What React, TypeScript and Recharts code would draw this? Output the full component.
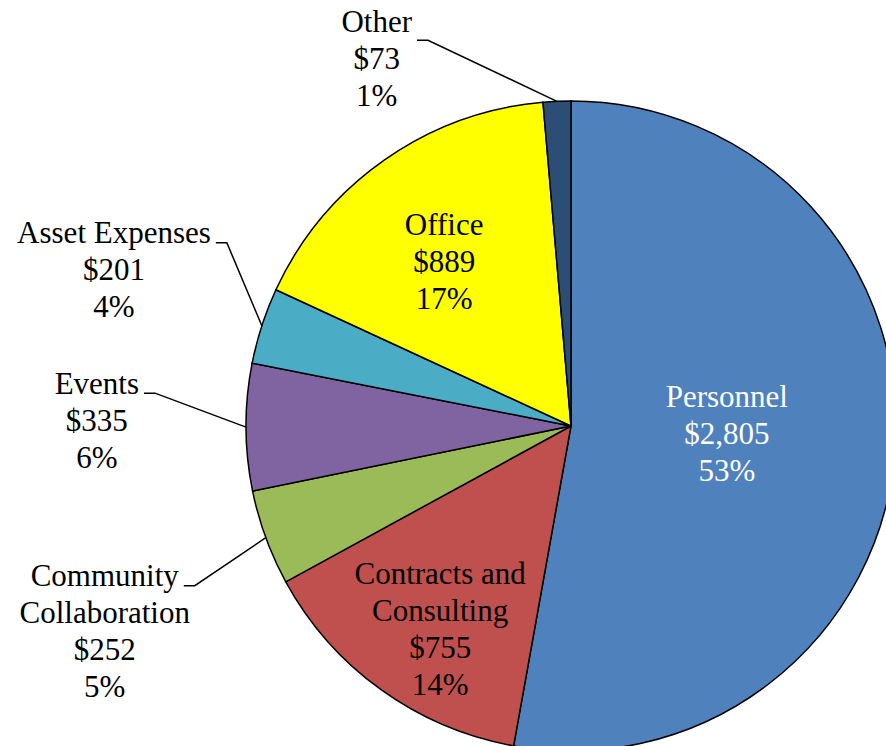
import React from 'react';
import { PieChart, Pie, Cell } from 'recharts';

const categories = [
  'Personnel',
  'Contracts and Consulting',
  'Community Collaboration',
  'Events',
  'Asset Expenses',
  'Office',
  'Other',
];
const amounts = [2805, 755, 252, 335, 201, 889, 73];
const colors = ['#4F81BD', '#C0504D', '#9BBB59', '#8064A2', '#4BACC6', '#FFFF00', '#2C4D75'];
const textColors = ['#FFFFFF', '#000000', '#000000', '#000000', '#000000', '#000000', '#000000'];

// label placement: inside labels sit at a fraction of the radius, outside labels get a leader line
type LabelLayout =
  | { kind: 'inside'; rFactor: number; angleShift: number }
  | { kind: 'outside'; elbowDx: number; elbowDy: number; textDy: number };

const labelLayout: LabelLayout[] = [
  { kind: 'inside', rFactor: 0.48, angleShift: -2.2 },
  { kind: 'inside', rFactor: 0.744, angleShift: -3 },
  { kind: 'outside', elbowDx: -71, elbowDy: 48, textDy: 0 },
  { kind: 'outside', elbowDx: -91, elbowDy: -34, textDy: 1 },
  { kind: 'outside', elbowDx: -35, elbowDy: -83, textDy: 0 },
  { kind: 'inside', rFactor: 0.64, angleShift: -2.5 },
  { kind: 'outside', elbowDx: -129, elbowDy: -61, textDy: -8 },
];

const data = categories.map((name, i) => ({ name, value: amounts[i] }));

const FONT = "'Liberation Serif', 'Times New Roman', 'DejaVu Serif', serif";
const FONT_SIZE = 31;
const LINE_H = 37;
const RADIAN = Math.PI / 180;
const textStyle: React.CSSProperties = { fontFamily: FONT, fontSize: FONT_SIZE };

let measureCtx: CanvasRenderingContext2D | null = null;
const measure = (s: string) => {
  if (!measureCtx) measureCtx = document.createElement('canvas').getContext('2d');
  if (!measureCtx) return s.length * FONT_SIZE * 0.45;
  measureCtx.font = `${FONT_SIZE}px 'Liberation Serif', serif`;
  return measureCtx.measureText(s).width;
};

const wrapName = (name: string): string[] => {
  if (name.length <= 16) return [name];
  const mid = name.length / 2;
  let best = -1;
  for (let i = 0; i < name.length; i++) {
    if (name[i] === ' ' && (best < 0 || Math.abs(i - mid) < Math.abs(best - mid))) best = i;
  }
  return best < 0 ? [name] : [name.slice(0, best), name.slice(best + 1)];
};

const renderLabel = (props: any) => {
  const { cx, cy, midAngle, outerRadius, percent, index, name, value } = props;
  const layout = labelLayout[index];
  const lines = [...wrapName(name), `$${Number(value).toLocaleString('en-US')}`, `${Math.round(percent * 100)}%`];
  const fill = textColors[index];

  if (layout.kind === 'inside') {
    const a = midAngle - layout.angleShift;
    const r = outerRadius * layout.rFactor;
    const x = cx + r * Math.cos(-a * RADIAN);
    const y = cy + r * Math.sin(-a * RADIAN);
    const top = y - ((lines.length - 1) / 2) * LINE_H;
    return (
      <g key={`lbl-${index}`}>
        {lines.map((t, i) => (
          <text key={i} x={x} y={top + i * LINE_H} textAnchor="middle" dominantBaseline="central"
            fill={fill} style={textStyle}>
            {t}
          </text>
        ))}
      </g>
    );
  }

  const ex = cx + outerRadius * Math.cos(-midAngle * RADIAN);
  const ey = cy + outerRadius * Math.sin(-midAngle * RADIAN);
  const bx = ex + layout.elbowDx;
  const by = ey + layout.elbowDy;
  const lineEnd = bx - 11;
  const firstRight = lineEnd - 5;
  const centerX = firstRight - measure(lines[0]) / 2;
  const base = by + layout.textDy;
  return (
    <g key={`lbl-${index}`}>
      <polyline points={`${ex},${ey} ${bx},${by} ${lineEnd},${by}`} fill="none" stroke="#000" strokeWidth={1.5} />
      {lines.map((t, i) => (
        <text key={i} x={centerX} y={base + i * LINE_H} textAnchor="middle"
          fill={fill} style={textStyle}>
          {t}
        </text>
      ))}
    </g>
  );
};

export default function App() {
  return (
    <div style={{ position: 'absolute', left: 0, top: 0, width: 886, height: 746, background: '#fff' }}>
      <PieChart width={886} height={746} margin={{ top: 0, right: 0, bottom: 0, left: 0 }}>
        <Pie
          data={data}
          dataKey="value"
          nameKey="name"
          cx={571}
          cy={426}
          outerRadius={325}
          startAngle={90}
          endAngle={-270}
          stroke="#000"
          strokeWidth={1.5}
          labelLine={false}
          label={renderLabel}
          isAnimationActive={false}
        >
          {data.map((d, i) => (
            <Cell key={d.name} fill={colors[i]} />
          ))}
        </Pie>
      </PieChart>
    </div>
  );
}
